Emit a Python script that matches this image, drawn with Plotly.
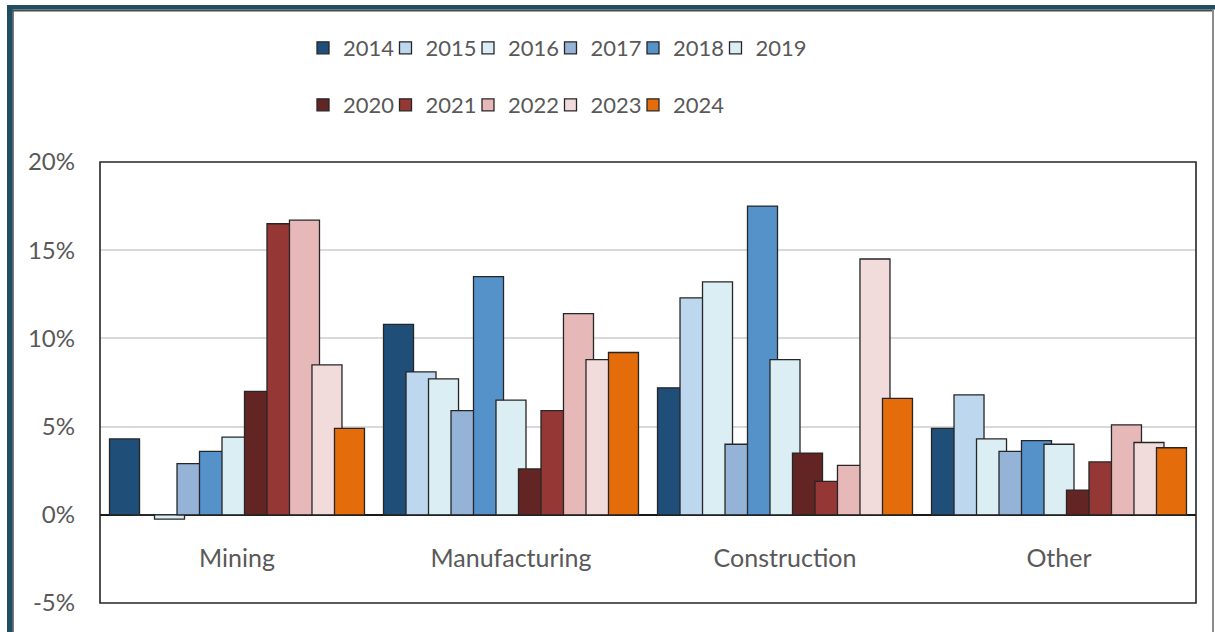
import plotly.graph_objects as go

categories = ["Mining", "Manufacturing", "Construction", "Other"]
years = ["2014", "2015", "2016", "2017", "2018", "2019",
         "2020", "2021", "2022", "2023", "2024"]

v2014 = [4.3, 10.8, 7.2, 4.9]
v2015 = [-0.02, 8.1, 12.3, 6.8]
v2016 = [-0.25, 7.7, 13.2, 4.3]
v2017 = [2.9, 5.9, 4.0, 3.6]
v2018 = [3.6, 13.5, 17.5, 4.2]
v2019 = [4.4, 6.5, 8.8, 4.0]
v2020 = [7.0, 2.6, 3.5, 1.4]
v2021 = [16.5, 5.9, 1.9, 3.0]
v2022 = [16.7, 11.4, 2.8, 5.1]
v2023 = [8.5, 8.8, 14.5, 4.1]
v2024 = [4.9, 9.2, 6.6, 3.8]

series = [v2014, v2015, v2016, v2017, v2018, v2019,
          v2020, v2021, v2022, v2023, v2024]

colors = ["#1F4E79", "#BDD7EE", "#DAEEF3", "#95B3D7", "#5592CA", "#DAEEF3",
          "#632523", "#953735", "#E6B9B8", "#F2DCDB", "#E46C0A"]

y_tickvals = [-5, 0, 5, 10, 15, 20]
y_ticktext = ["-5%", "0%", "5%", "10%", "15%", "20%"]
y_range = [-5, 20]

# layout geometry (pixels)
W, H = 1215, 632
ML, MR, MT, MB = 100, 19, 162, 29
PW = W - ML - MR
PH = H - MT - MB

def px_x(px):
    return (px - ML) / PW

def px_y(py):
    return (H - MB - py) / PH

n = len(series)
bar_w = 0.1095
step = 0.0821
span = step * (n - 1) + bar_w

FONT = "Lato, 'Open Sans', sans-serif"
GRAY = "#595959"

fig = go.Figure()
for i, (yr, vals, col) in enumerate(zip(years, series, colors)):
    fig.add_trace(go.Bar(
        x=categories, y=vals, name=yr,
        marker=dict(color=col, line=dict(color="#262626", width=1.3)),
        width=bar_w, offset=-span / 2 + i * step,
        legend="legend" if i < 6 else "legend2",
        hoverinfo="x+y+name",
    ))

# invisible spacer entries so the last legend labels are not clipped
for lg in ["legend", "legend2"]:
    fig.add_trace(go.Bar(
        x=[None], y=[None], name=" ", legend=lg, hoverinfo="skip",
        marker=dict(color="rgba(0,0,0,0)", line=dict(width=0)),
    ))

legend_common = dict(
    orientation="h", xanchor="left", yanchor="middle",
    x=px_x(303), font=dict(family=FONT, size=22, color=GRAY),
    bgcolor="rgba(0,0,0,0)", entrywidth=37.5, entrywidthmode="pixels",
    traceorder="normal", itemclick=False, itemdoubleclick=False,
)

teal = "#1F4E63"
shapes = [
    # plot area border
    dict(type="rect", xref="paper", yref="paper", x0=0, x1=1, y0=0, y1=1,
         line=dict(color="#262626", width=1.6), layer="above"),
    # outer frame decorations
    dict(type="rect", xref="paper", yref="paper",
         x0=px_x(7), x1=px_x(1215), y0=px_y(9.5), y1=px_y(5),
         fillcolor=teal, line=dict(width=0)),
    dict(type="line", xref="paper", yref="paper",
         x0=px_x(12), x1=px_x(1213), y0=px_y(10.5), y1=px_y(10.5),
         line=dict(color="#4d4d4d", width=2)),
    dict(type="rect", xref="paper", yref="paper",
         x0=px_x(7), x1=px_x(12.5), y0=px_y(640), y1=px_y(5),
         fillcolor=teal, line=dict(width=0)),
    dict(type="line", xref="paper", yref="paper",
         x0=px_x(13), x1=px_x(13), y0=px_y(640), y1=px_y(10),
         line=dict(color="#4d4d4d", width=1.5)),
    dict(type="line", xref="paper", yref="paper",
         x0=px_x(1213), x1=px_x(1213), y0=px_y(640), y1=px_y(10),
         line=dict(color="#8c8c8c", width=2)),
]

fig.update_layout(
    width=W, height=H,
    margin=dict(l=ML, r=MR, t=MT, b=MB, pad=0),
    paper_bgcolor="white", plot_bgcolor="white",
    barmode="overlay",
    font=dict(family=FONT, color=GRAY),
    legend=dict(legend_common, y=px_y(48)),
    legend2=dict(legend_common, y=px_y(105)),
    xaxis=dict(
        type="category", range=[-0.5, len(categories) - 0.5],
        anchor="free",
        position=(0 - y_range[0]) / (y_range[1] - y_range[0]),
        showline=False, showgrid=False, ticks="",
        tickfont=dict(family=FONT, size=25, color=GRAY),
        ticklabelstandoff=26,
    ),
    yaxis=dict(
        range=y_range, tickvals=y_tickvals, ticktext=y_ticktext,
        showgrid=True, gridcolor="#D9D9D9", gridwidth=1.5,
        zeroline=True, zerolinecolor="#1a1a1a", zerolinewidth=1.6,
        showline=False, ticks="",
        tickfont=dict(family=FONT, size=24, color=GRAY),
        ticklabelstandoff=24,
    ),
    shapes=shapes,
    showlegend=True,
)

fig.write_html("out.html")
